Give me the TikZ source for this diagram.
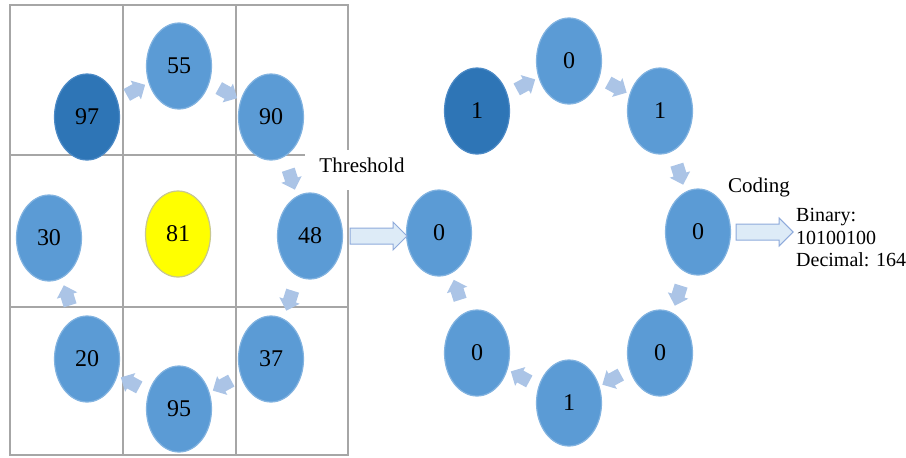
\documentclass[tikz,border=0pt]{standalone}
\usepackage{fontspec}
\setmainfont{Liberation Serif}
\usetikzlibrary{shapes.geometric,shapes.arrows}
\definecolor{cellblue}{HTML}{5B9BD5}
\definecolor{cellrim}{HTML}{82B3E0}
\definecolor{darkblue}{HTML}{2E75B6}
\definecolor{darkrim}{HTML}{4C8AC6}
\definecolor{centre}{HTML}{FFFF00}
\definecolor{centrerim}{HTML}{C8C890}
\definecolor{stepcol}{HTML}{ABC4E6}
\definecolor{gridcol}{HTML}{A6A6A6}
\definecolor{bigfill}{HTML}{DDEBF7}
\definecolor{bigrim}{HTML}{8EAADB}

\begin{document}
\begin{tikzpicture}[x=1pt,y=-1pt,
  cell/.style={ellipse, minimum width=65pt, minimum height=86pt, inner sep=0pt,
    fill=cellblue, draw=cellrim, line width=1.2pt, font=\fontsize{24}{28}\selectfont},
  hot/.style={cell, fill=darkblue, draw=darkrim},
  midcell/.style={cell, fill=centre, draw=centrerim},
  stepar/.style={single arrow, fill=stepcol, draw=none, minimum height=21pt,
    inner xsep=0pt, inner ysep=6.5pt, single arrow head extend=4pt,
    midway, sloped, allow upside down},
  bigar/.style={single arrow, fill=bigfill, draw=bigrim, line width=1pt,
    minimum height=57pt, inner xsep=0pt, inner ysep=7.5pt,
    single arrow head extend=6pt, midway, sloped, allow upside down},
  gridline/.style={draw=gridcol, line width=2pt},
  lbl/.style={font=\fontsize{21}{25}\selectfont, inner sep=0pt}]

\useasboundingbox (0,0) rectangle (906,458);

% 3x3 neighbourhood grid
\path[gridline] (10,5) -- (348,5);
\path[gridline] (10,4) -- (10,456);
\path[gridline] (123,5) -- (123,455);
\path[gridline] (236,5) -- (236,455);
\path[gridline] (348,4) -- (348,150);
\path[gridline] (348,190) -- (348,456);
\path[gridline] (10,155) -- (305,155);
\path[gridline] (10,307) -- (348,307);
\path[gridline] (10,455) -- (348,455);

% neighbourhood values
\node[hot]     (n97) at (87,117)  {97};
\node[cell]    (n55) at (179,66)  {55};
\node[cell]    (n90) at (271,117) {90};
\node[cell]    (n48) at (310,236) {48};
\node[cell]    (n37) at (271,359) {37};
\node[cell]    (n95) at (179,409) {95};
\node[cell]    (n20) at (87,359)  {20};
\node[cell]    (n30) at (49,238)  {30};
\node[midcell] (n81) at (178,234) {81};

% scan order around the centre pixel
\path (n97) -- node[stepar] (a1) {} (n55);
\path (n55) -- node[stepar] (a2) {} (n90);
\path (n90) -- node[stepar] (a3) {} (n48);
\path (n48) -- node[stepar] (a4) {} (n37);
\path (n37) -- node[stepar] (a5) {} (n95);
\path (n95) -- node[stepar] (a6) {} (n20);
\path (n20) -- node[stepar] (a7) {} (n30);

% thresholded bits
\node[hot]  (b1) at (477,111) {1};
\node[cell] (b2) at (569,61)  {0};
\node[cell] (b3) at (660,111) {1};
\node[cell] (b4) at (698,232) {0};
\node[cell] (b5) at (660,353) {0};
\node[cell] (b6) at (569,403) {1};
\node[cell] (b7) at (477,353) {0};
\node[cell] (b8) at (439,233) {0};

\path (b1) -- node[stepar] (c1) {} (b2);
\path (b2) -- node[stepar] (c2) {} (b3);
\path (b3) -- node[stepar] (c3) {} (b4);
\path (b4) -- node[stepar] (c4) {} (b5);
\path (b5) -- node[stepar] (c5) {} (b6);
\path (b6) -- node[stepar] (c6) {} (b7);
\path (b7) -- node[stepar] (c7) {} (b8);

% threshold step
\path (n48.east) -- node[bigar] (thr) {} (n48.east -| b8.west);
\node[lbl] (thrlbl) at (362,165) {Threshold};

% coding step
\node[lbl, anchor=west, align=left, font=\fontsize{20}{22.5}\selectfont]
  (code) at (796,238) {Binary:\\10100100\\Decimal: 164};
\path (b4.east) -- node[bigar, xshift=-3pt] (cod) {} (b4.east -| code.west);
\node[lbl] (codlbl) at (759,187) {Coding};
\end{tikzpicture}
\end{document}
